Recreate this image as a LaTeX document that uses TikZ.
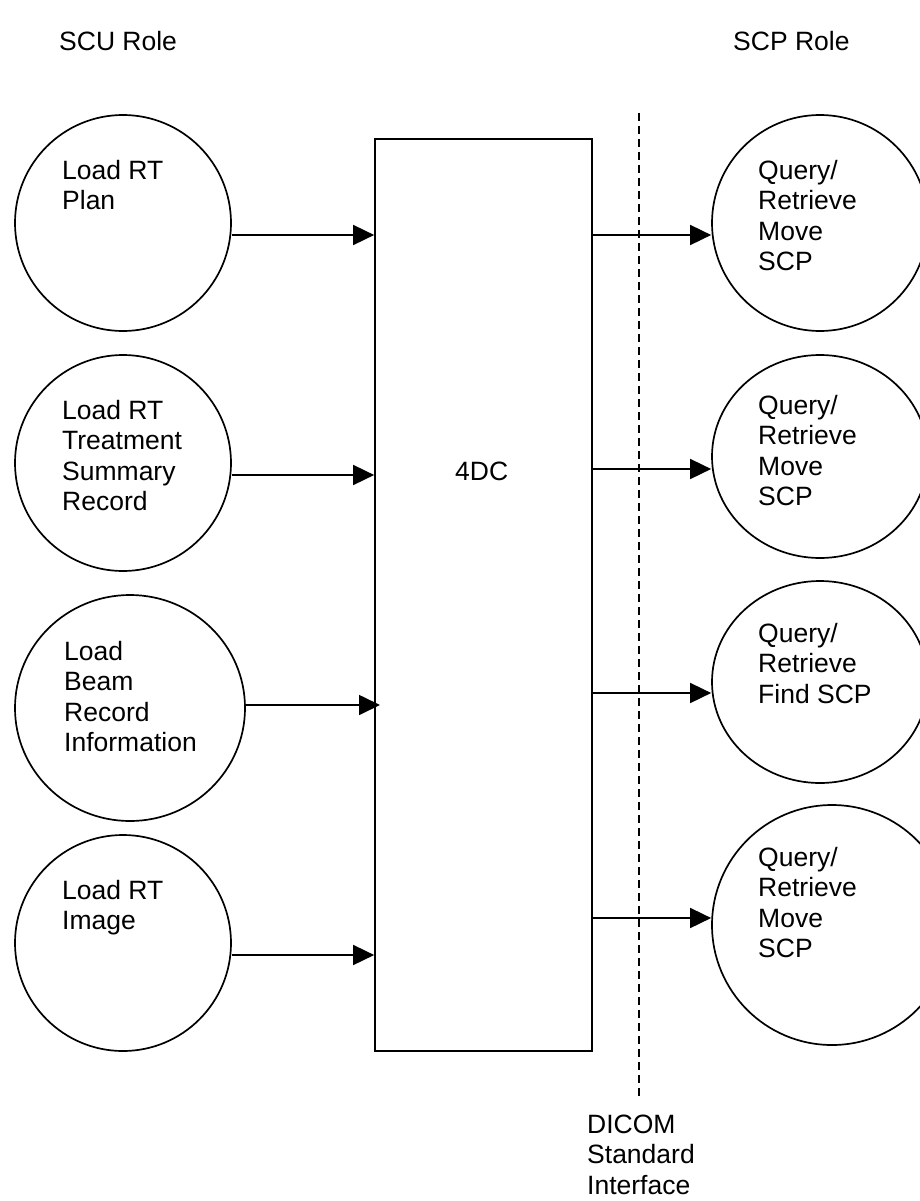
\documentclass[tikz,border=0pt]{standalone}
\usepackage{fontspec}
\setmainfont{Liberation Sans}
\usetikzlibrary{arrows.meta,shapes.geometric}
\tikzset{
  shp/.style={draw, line width=1.7pt, inner sep=0pt},
  circ/.style={shp, circle, minimum size=216pt},
  lbl/.style={anchor=base west, inner sep=0pt, align=left, font=\fontsize{26.5}{30.6}\selectfont},
  arr/.style={line width=1.7pt, -{Triangle[length=21pt,width=20pt]}},
  iface/.style={line width=1.8pt, dash pattern=on 8pt off 5pt}
}
\begin{document}
\begin{tikzpicture}[x=1pt,y=-1pt]
\useasboundingbox (0,0) rectangle (919,1201);
% headers
\node[lbl] (scu) at (59,51) {SCU Role};
\node[lbl] (scp) at (733,51) {SCP Role};
% central box
\node[shp, minimum width=217pt, minimum height=912pt] (box) at (483.5,595) {};
\node[lbl] (dc) at (455,480) {4DC};
% interface line
\coordinate (d1) at (639,113);
\coordinate (d2) at (639,1098);
\draw[iface] (d1) -- (d2);
\node[lbl] (dicom) at (587,1194.2) {DICOM\\Standard\\Interface};
% left circles
\node[circ] (l1) at (123,223) {};
\node[circ] (l2) at (123,463) {};
\node[shp, ellipse, minimum width=230pt, minimum height=226pt] (l3) at (130,708) {};
\node[circ] (l4) at (123,943) {};
\node[lbl] (tl1) at (62,209.6) {Load RT\\Plan};
\node[lbl] (tl2) at (62,510.8) {Load RT\\Treatment\\Summary\\Record};
\node[lbl] (tl3) at (64,751.8) {Load\\Beam\\Record\\Information};
\node[lbl] (tl4) at (62,929.6) {Load RT\\Image};
% right circles
\node[circ] (r1) at (820,223) {};
\node[shp, ellipse, minimum width=216pt, minimum height=203pt] (r2) at (820,456.5) {};
\node[shp, ellipse, minimum width=216pt, minimum height=202pt] (r3) at (820,682) {};
\node[shp, circle, minimum size=240pt] (r4) at (832,925) {};
\node[lbl] (tr1) at (758,270.8) {Query/\\Retrieve\\Move\\SCP};
\node[lbl] (tr2) at (758,505.8) {Query/\\Retrieve\\Move\\SCP};
\node[lbl] (tr3) at (758,703.2) {Query/\\Retrieve\\Find SCP};
\node[lbl] (tr4) at (758,957.8) {Query/\\Retrieve\\Move\\SCP};
% arrow levels
\coordinate (a1) at (0,235);
\coordinate (a2) at (0,475);
\coordinate (a3) at (380,705);
\coordinate (a4) at (0,955);
\coordinate (b1) at (0,235);
\coordinate (b2) at (0,469);
\coordinate (b3) at (0,693);
\coordinate (b4) at (0,918);
\draw[arr] (l1.east |- a1) -- (box.west |- a1);
\draw[arr] (l2.east |- a2) -- (box.west |- a2);
\draw[arr] (l3.east |- a3) -- (a3);
\draw[arr] (l4.east |- a4) -- (box.west |- a4);
\draw[arr] (box.east |- b1) -- (r1.west |- b1);
\draw[arr] (box.east |- b2) -- (r2.west |- b2);
\draw[arr] (box.east |- b3) -- (r3.west |- b3);
\draw[arr] (box.east |- b4) -- (r4.west |- b4);
\end{tikzpicture}
\end{document}
